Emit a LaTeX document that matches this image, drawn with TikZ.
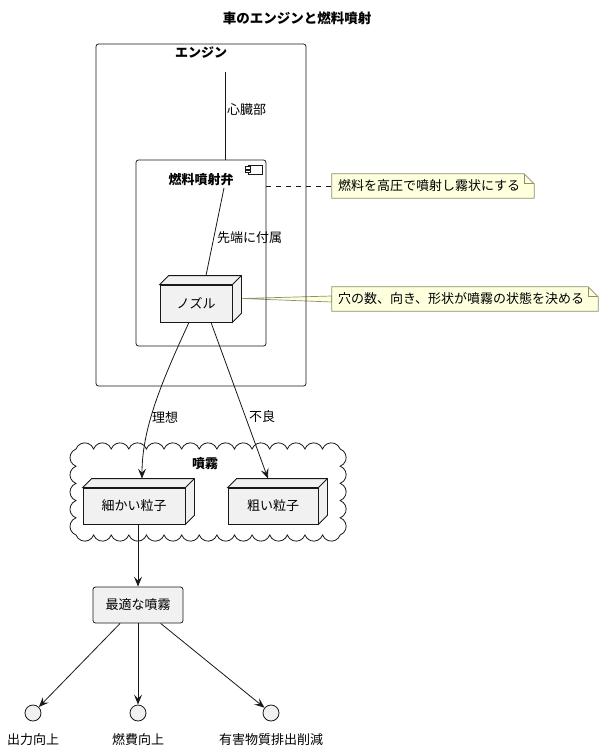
\documentclass[tikz,border=0pt]{standalone}
\usepackage{fontspec}
\setmainfont{Noto Sans CJK JP}
\usetikzlibrary{arrows.meta,backgrounds,calc}
\definecolor{boxfill}{HTML}{F1F1F1}
\definecolor{boxline}{HTML}{181818}
\definecolor{notefill}{HTML}{FEFFDD}
\definecolor{noteline}{HTML}{8F8F6E}
\tikzset{
	every node/.style={font=\fontsize{13}{15}\selectfont},
	hd/.style={font=\fontsize{13}{15}\selectfont\bfseries},
	ln/.style={draw=boxline, line width=0.8pt},
	arr/.style={ln, -{Stealth[length=10pt,width=8pt,inset=4pt]}},
	frame/.style={ln, rounded corners=2.5pt, inner sep=0},
	cube/.style={ln, fill=boxfill, inner sep=0},
	notetext/.style={align=left, inner xsep=6pt, inner ysep=0, minimum height=24},
	notebox/.style={draw=noteline, fill=notefill, line width=0.7pt},
	dot/.style={ln, fill=boxfill, circle, inner sep=0, minimum size=16},
}
% top and right face of a 3d box node
\newcommand{\cubeside}[1]{%
	\draw[cube] (#1.north west) -- ++(9,9) -| ($(#1.south east)+(9,9)$) -- (#1.south east) -- (#1.north east) -- cycle;
	\draw[cube] (#1.north east) -- ++(9,9);}
\begin{document}
\begin{tikzpicture}[x=1pt,y=1pt]
	\useasboundingbox (0,0) rectangle (605,-751);
	\node[font=\fontsize{13.5}{15}\selectfont\bfseries] (title) at (297,-18) {車のエンジンと燃料噴射};

	% ENGINE
	\node[frame, minimum width=210, minimum height=342] (engine) at (201,-215) {};
	\node[hd] (engname) at (201,-53) {エンジン};
	\coordinate (engtop) at (225,-72);

	% VALVE
	\node[frame, minimum width=130, minimum height=186] (valve) at (201,-253) {};
	\node[hd] (valvename) at (201,-180) {燃料噴射弁};
	\draw[ln, line width=0.6pt, fill=white] (248,-165) rectangle (262,-174);
	\draw[ln, line width=0.6pt, fill=white] (245.5,-166.8) rectangle (250.5,-169);
	\draw[ln, line width=0.6pt, fill=white] (245.5,-170.2) rectangle (250.5,-172.4);
	\draw[ln] (engtop) -- (engtop |- valve.north);
	\node[anchor=west, inner sep=1pt] (heart) at (226,-110) {心臓部};

	% NOZZLE
	\node[cube, minimum width=72, minimum height=37] (nozzle) at (196,-303.5) {ノズル};
	\cubeside{nozzle}
	\coordinate (valvetip) at (224,-188);
	\draw[ln] (valvetip) -- ([xshift=10,yshift=9]nozzle.north);
	\node[anchor=west, inner sep=1pt] (tip) at (216,-238) {先端に付属};

	% NOTES
	\node[notetext, text width=190] (note1) at (433,-186) {燃料を高圧で噴射し霧状にする};
	\node[notetext, text width=254] (note2) at (465,-299) {穴の数、向き、形状が噴霧の状態を決める};
	\begin{scope}[on background layer]
		\draw[notebox] ([xshift=10,yshift=5]nozzle.east) -- ([yshift=3]note2.west) -- ([yshift=-3]note2.west) -- cycle;
		\foreach \n in {note1,note2}
			\draw[notebox] (\n.south west) -- (\n.north west) -- ([xshift=-10]\n.north east)
				-- ([yshift=-10]\n.north east) -- (\n.south east) -- cycle;
	\end{scope}
	\foreach \n in {note1,note2}
		\draw[draw=noteline, line width=0.7pt] ([xshift=-10]\n.north east) |- ([yshift=-10]\n.north east);
	\draw[ln, dash pattern=on 5pt off 5pt] (valve.east |- note1.west) -- (note1.west);

	% SPRAY
	\draw[ln, fill=white] (76,-449)
		\foreach \i in {1,...,15} { arc[start angle=160, end angle=20, radius=9.37] }
		\foreach \i in {1,...,5} { arc[start angle=70, end angle=-70, radius=9.15] }
		\foreach \i in {1,...,15} { arc[start angle=-20, end angle=-160, radius=9.37] }
		\foreach \i in {1,...,5} { arc[start angle=250, end angle=110, radius=9.15] } -- cycle;
	\node[hd] (spray) at (205,-464) {噴霧};
	\node[cube, minimum width=102, minimum height=36] (fine) at (134,-506) {細かい粒子};
	\cubeside{fine}
	\node[cube, minimum width=90, minimum height=36] (coarse) at (273,-506) {粗い粒子};
	\cubeside{coarse}
	\draw[arr] ([xshift=-7]nozzle.south) .. controls (160,-385) and (142,-430) .. ([xshift=8,yshift=9]fine.north);
	\draw[arr] ([xshift=15]nozzle.south) -- ([xshift=-5,yshift=9]coarse.north);
	\node[anchor=west, inner sep=1pt] (ideal) at (151,-417) {理想};
	\node[anchor=west, inner sep=1pt] (bad) at (248,-417) {不良};

	% RESULT
	\node[cube, rounded corners=2.5pt, minimum width=90, minimum height=36] (opt) at (138,-605) {最適な噴霧};
	\draw[arr] ([xshift=4]fine.south) -- ([xshift=4]fine.south |- opt.north);
	\node[dot] (c1) at (33,-713) {};
	\node[dot] (c2) at (138,-713) {};
	\node[dot] (c3) at (271,-713) {};
	\node (l1) at ([yshift=-27]c1) {出力向上};
	\node (l2) at ([yshift=-27]c2) {燃費向上};
	\node (l3) at ([yshift=-27]c3) {有害物質排出削減};
	\foreach \c in {c1,c2,c3}
		\draw[arr] (opt) -- (\c);
\end{tikzpicture}
\end{document}
